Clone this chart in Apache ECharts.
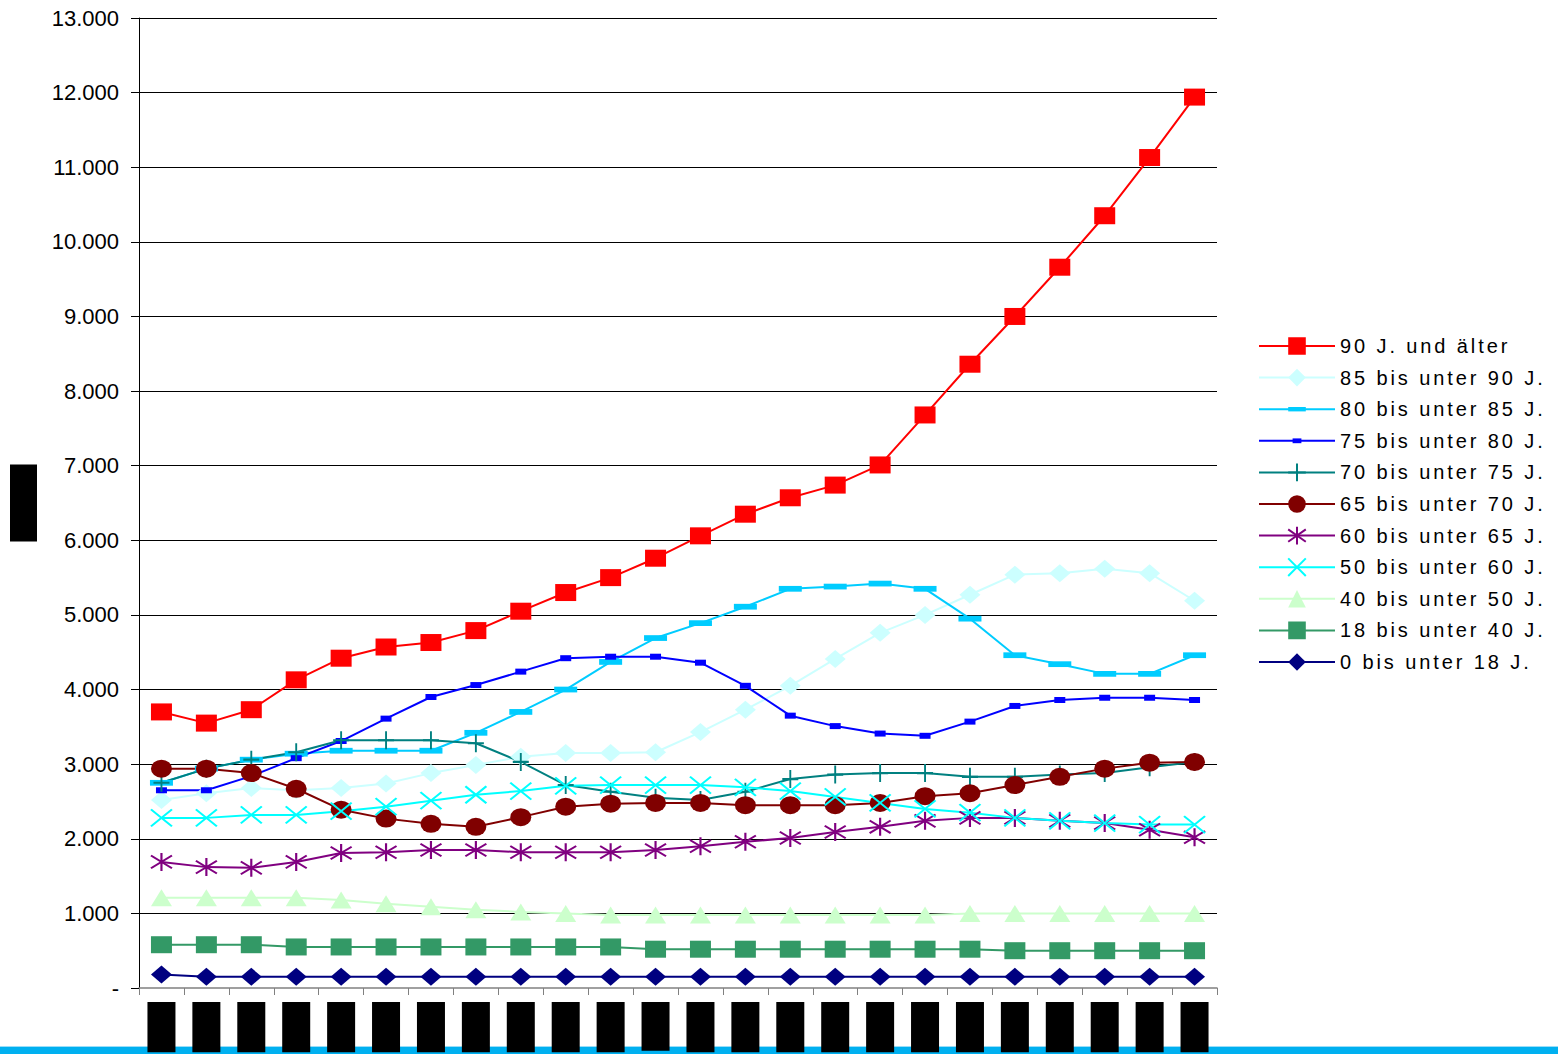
<!DOCTYPE html>
<html>
<head>
<meta charset="utf-8">
<script src="https://cdn.jsdelivr.net/npm/echarts@6/dist/echarts.min.js"></script>
<style>
  html, body { margin: 0; padding: 0; background: #fff; }
  #chart { width: 1558px; height: 1054px; }
  /* legend entries are set with wide tracking */
  #chart text[text-anchor="start"] { letter-spacing: 2.9px; }
</style>
</head>
<body>
<div id="chart"></div>
<script>
// Categories (years)
const years = ['2000','2001','2002','2003','2004','2005','2006','2007','2008','2009','2010','2011',
               '2012','2013','2014','2015','2016','2017','2018','2019','2020','2021','2022','2023'];

// Values per age group
const age90plus = [3700, 3550, 3730, 4130, 4420, 4570, 4630, 4790, 5050, 5300, 5500, 5760,
                   6060, 6350, 6570, 6740, 7010, 7680, 8360, 9000, 9660, 10350, 11130, 11940];
const age85to90 = [2520, 2610, 2680, 2650, 2680, 2740, 2880, 2990, 3100, 3150, 3150, 3160,
                   3430, 3730, 4050, 4410, 4760, 5000, 5270, 5540, 5560, 5620, 5560, 5190];
const age80to85 = [2750, 2940, 3060, 3140, 3180, 3180, 3180, 3420, 3700, 4000, 4370, 4690,
                   4890, 5110, 5350, 5380, 5420, 5350, 4950, 4460, 4340, 4210, 4210, 4460];
const age75to80 = [2650, 2650, 2840, 3080, 3310, 3610, 3900, 4060, 4240, 4420, 4440, 4440,
                   4360, 4050, 3650, 3510, 3410, 3380, 3570, 3780, 3860, 3890, 3890, 3860];
const age70to75 = [2750, 2940, 3060, 3160, 3320, 3320, 3320, 3280, 3030, 2720, 2630, 2550,
                   2520, 2630, 2800, 2860, 2880, 2880, 2830, 2830, 2860, 2880, 2960, 3030];
const age65to70 = [2940, 2940, 2880, 2670, 2390, 2270, 2200, 2160, 2290, 2430, 2470, 2480,
                   2480, 2450, 2450, 2450, 2480, 2570, 2610, 2720, 2830, 2940, 3020, 3030];
const age60to65 = [1690, 1620, 1610, 1690, 1810, 1820, 1850, 1850, 1820, 1820, 1820, 1850,
                   1900, 1960, 2010, 2090, 2160, 2240, 2280, 2280, 2240, 2210, 2120, 2020];
const age50to60 = [2280, 2280, 2320, 2320, 2370, 2430, 2510, 2590, 2640, 2710, 2720, 2720,
                   2720, 2690, 2640, 2560, 2480, 2400, 2350, 2280, 2240, 2210, 2190, 2190];
const age40to50 = [1210, 1210, 1210, 1210, 1180, 1130, 1090, 1050, 1020, 1000, 980, 980,
                   980, 980, 980, 980, 980, 980, 1000, 1000, 1000, 1000, 1000, 1000];
const age18to40 = [580, 580, 580, 550, 550, 550, 550, 550, 550, 550, 550, 520,
                   520, 520, 520, 520, 520, 520, 520, 500, 500, 500, 500, 500];
const age0to18  = [180, 150, 150, 150, 150, 150, 150, 150, 150, 150, 150, 150,
                   150, 150, 150, 150, 150, 150, 150, 150, 150, 150, 150, 150];

// Y-axis tick settings
const yMin = 0, yMax = 13000, yStep = 1000;

// Marker shapes
const SYM_DASH_WIDE  = 'path://M0,0M24,24M0,9L24,9L24,15L0,15Z';
const SYM_DASH_SMALL = 'path://M0,0M22,22M5.5,8L16.5,8L16.5,14L5.5,14Z';
const SYM_PLUS       = 'path://M10,0L10,20M0,10L20,10';
const SYM_STAR       = 'path://M10,0L10,20M0,3L20,17M0,17L20,3';
const SYM_CROSS      = 'path://M0,0L20,20M0,20L20,0';
const SYM_ELLIPSE    = 'path://M0,10A10,10,0,1,1,20,10A10,10,0,1,1,0,10Z';

const groups = [
  { name: '90 J. und älter',    data: age90plus, color: '#FF0000', symbol: 'rect',         size: [21, 17], stroke: false },
  { name: '85 bis unter 90 J.', data: age85to90, color: '#CCFFFF', symbol: 'diamond',      size: [21, 18], stroke: false },
  { name: '80 bis unter 85 J.', data: age80to85, color: '#00CCFF', symbol: SYM_DASH_WIDE,  size: [23, 23], stroke: false },
  { name: '75 bis unter 80 J.', data: age75to80, color: '#0000FF', symbol: SYM_DASH_SMALL, size: [22, 22], stroke: false },
  { name: '70 bis unter 75 J.', data: age70to75, color: '#008080', symbol: SYM_PLUS,       size: [16, 18], stroke: true  },
  { name: '65 bis unter 70 J.', data: age65to70, color: '#800000', symbol: SYM_ELLIPSE,    size: [21, 18], stroke: false },
  { name: '60 bis unter 65 J.', data: age60to65, color: '#800080', symbol: SYM_STAR,       size: [21, 18], stroke: true  },
  { name: '50 bis unter 60 J.', data: age50to60, color: '#00FFFF', symbol: SYM_CROSS,      size: [21, 17], stroke: true  },
  { name: '40 bis unter 50 J.', data: age40to50, color: '#CCFFCC', symbol: 'triangle',     size: [21, 17], stroke: false },
  { name: '18 bis unter 40 J.', data: age18to40, color: '#339966', symbol: 'rect',         size: [21, 17], stroke: false },
  { name: '0 bis unter 18 J.',  data: age0to18,  color: '#000080', symbol: 'diamond',      size: [21, 18], stroke: false }
];

const fmtThousands = v => v === 0 ? '-' : String(v).replace(/\B(?=(\d{3})+(?!\d))/g, '.');

const chart = echarts.init(document.getElementById('chart'), null, { renderer: 'svg' });

chart.setOption({
  animation: false,
  backgroundColor: '#fff',
  grid: { left: 139, right: 341, top: 18, bottom: 66, containLabel: false, outerBoundsMode: 'none' },
  legend: {
    orient: 'vertical',
    left: 1258,
    top: 336,
    padding: 0,
    itemWidth: 76,
    itemHeight: 22,
    itemGap: 11.6,
    selectedMode: false,
    textStyle: { fontFamily: 'Liberation Sans', fontSize: 20, color: '#000' },
    data: groups.map(g => g.name)
  },
  xAxis: {
    type: 'category',
    data: years,
    boundaryGap: true,
    axisLine: { show: true, lineStyle: { color: '#808080', width: 1.5 } },
    axisTick: { show: true, interval: 0, length: 7, lineStyle: { color: '#808080', width: 1 } },
    axisLabel: {
      interval: 0, rotate: 90, margin: 14,
      fontFamily: 'Liberation Sans', fontSize: 19,
      color: '#000', backgroundColor: '#000',
      padding: [4.5, 4, 4.5, 4]
    },
    splitLine: { show: false }
  },
  yAxis: {
    type: 'value',
    min: yMin, max: yMax, interval: yStep,
    name: 'Anzahl',
    nameLocation: 'middle',
    nameRotate: 90,
    nameGap: 102,
    nameTextStyle: {
      fontFamily: 'Liberation Sans', fontSize: 18,
      color: '#000', backgroundColor: '#000',
      padding: [4.5, 11, 4.5, 11]
    },
    axisLine: { show: true, lineStyle: { color: '#000', width: 1 } },
    axisTick: { show: true, length: 8, lineStyle: { color: '#000', width: 1 } },
    axisLabel: {
      formatter: fmtThousands,
      fontFamily: 'Liberation Sans', fontSize: 22, color: '#000', margin: 20
    },
    splitLine: { show: true, showMinLine: false, lineStyle: { color: '#000', width: 1 } }
  },
  graphic: [
    { type: 'rect', z: -10, left: 0, top: 1046, shape: { width: 1558, height: 8 }, style: { fill: '#00B0F0' } },
    { type: 'rect', z: -10, left: 0, top: 1046, shape: { width: 1558, height: 1 }, style: { fill: '#9BDDF8' } }
  ],
  series: groups.map(g => ({
    type: 'line',
    name: g.name,
    data: g.data,
    symbol: g.symbol,
    symbolSize: g.size,
    showAllSymbol: true,
    lineStyle: { color: g.color, width: 2 },
    itemStyle: {
      color: g.color,
      borderColor: g.color,
      borderWidth: g.stroke ? 2 : 0
    },
    emphasis: { disabled: true }
  }))
});
</script>
</body>
</html>
